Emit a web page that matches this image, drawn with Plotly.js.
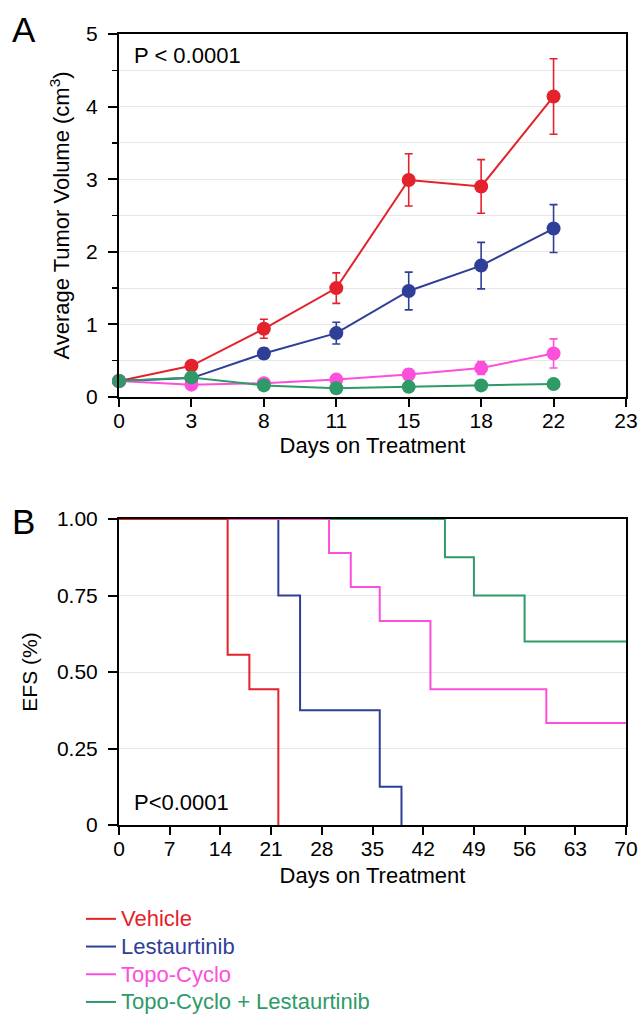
<!DOCTYPE html>
<html>
<head>
<meta charset="utf-8">
<script src="https://cdn.plot.ly/plotly-3.0.1.min.js"></script>
<style>html,body{margin:0;padding:0;background:#fff}#chart{width:644px;height:1027px}</style>
</head>
<body>
<div id="chart"></div>
<script>
// ---------- Panel A data ----------
const tickDays = [0, 3, 8, 11, 15, 18, 22, 23];
const measureDays = [0, 3, 8, 11, 15, 18, 22];
const vehicleVol = [0.22, 0.43, 0.94, 1.50, 2.99, 2.90, 4.14];
const vehicleErr = [0.02, 0.03, 0.13, 0.21, 0.36, 0.37, 0.52];
const lestVol = [0.22, 0.26, 0.60, 0.88, 1.46, 1.81, 2.32];
const lestErr = [0.02, 0.03, 0.07, 0.15, 0.26, 0.32, 0.33];
const topoVol = [0.22, 0.17, 0.19, 0.24, 0.31, 0.40, 0.60];
const topoErr = [0.02, 0.02, 0.03, 0.04, 0.07, 0.09, 0.20];
const comboVol = [0.22, 0.27, 0.16, 0.12, 0.14, 0.16, 0.18];
const comboErr = [0.02, 0.02, 0.02, 0.02, 0.02, 0.02, 0.02];

// ---------- Panel B data (Kaplan-Meier) ----------
const kmVehicleT = [0, 15, 18, 22];
const kmVehicleS = [1, 0.556, 0.444, 0];
const kmLestT = [0, 22, 25, 36, 39];
const kmLestS = [1, 0.75, 0.375, 0.125, 0];
const kmTopoT = [0, 29, 32, 36, 43, 59, 70];
const kmTopoS = [1, 0.889, 0.778, 0.667, 0.444, 0.333, 0.333];
const kmComboT = [0, 45, 49, 56, 70];
const kmComboS = [1, 0.875, 0.75, 0.6, 0.6];
const efsTickVals = [0, 0.25, 0.5, 0.75, 1];
const efsTickText = ['0', '0.25', '0.50', '0.75', '1.00'];
const kmTicks = [0, 7, 14, 21, 28, 35, 42, 49, 56, 63, 70];

const groupNames = ['Vehicle', 'Lestaurtinib', 'Topo-Cyclo', 'Topo-Cyclo + Lestaurtinib'];
const groupColors = ['#e3222b', '#2f3f98', '#fb4fdc', '#2e9a68'];

const FONT = 'Liberation Sans, Arial, Helvetica, sans-serif';
const xIdx = measureDays.map(d => tickDays.indexOf(d));

function volTrace(vals, errs, i) {
  return {
    x: xIdx, y: vals, type: 'scatter', mode: 'lines+markers',
    xaxis: 'x', yaxis: 'y', showlegend: false, cliponaxis: false,
    line: {color: groupColors[i], width: 2},
    marker: {color: groupColors[i], size: 14},
    error_y: {type: 'data', array: errs, visible: true, color: groupColors[i], thickness: 1.6, width: 4},
    hoverinfo: 'x+y', name: groupNames[i]
  };
}
function kmTrace(t, s, i) {
  return {
    x: t, y: s, type: 'scatter', mode: 'lines', xaxis: 'x2', yaxis: 'y2',
    line: {color: groupColors[i], width: 2, shape: 'hv'},
    name: '<span style="color:' + groupColors[i] + ';font-size:22px">' + groupNames[i] + '</span>',
    legendrank: i + 1, showlegend: true
  };
}

const data = [
  volTrace(vehicleVol, vehicleErr, 0),
  volTrace(lestVol, lestErr, 1),
  volTrace(topoVol, topoErr, 2),
  volTrace(comboVol, comboErr, 3),
  kmTrace(kmComboT, kmComboS, 3),
  kmTrace(kmLestT, kmLestS, 1),
  kmTrace(kmTopoT, kmTopoS, 2),
  kmTrace(kmVehicleT, kmVehicleS, 0)
];

const H = 1027;
const axCommon = {
  showline: true, linecolor: '#000', linewidth: 2, mirror: true,
  ticks: 'outside', ticklen: 9, tickwidth: 2, tickcolor: '#000',
  tickfont: {family: FONT, size: 21, color: '#000'}, zeroline: false, automargin: false
};

const layout = {
  width: 644, height: H,
  margin: {l: 119, r: 18, t: 0, b: 0, autoexpand: false},
  paper_bgcolor: '#fff', plot_bgcolor: '#fff',
  font: {family: FONT, color: '#000'},
  xaxis: Object.assign({}, axCommon, {
    domain: [0, 1], anchor: 'y', range: [0, 7],
    tickmode: 'array', tickvals: tickDays.map((d, i) => i), ticktext: tickDays.map(String),
    showgrid: false, ticklen: 8, ticklabelstandoff: -4,
    title: {text: 'Days on Treatment', font: {family: FONT, size: 22}, standoff: 6}
  }),
  yaxis: Object.assign({}, axCommon, {
    domain: [1 - 397 / H, 1 - 34 / H], anchor: 'x', range: [0, 5],
    tickmode: 'linear', dtick: 1, tick0: 0, showgrid: true, gridcolor: '#e6e6e6', gridwidth: 1,
    ticklabelstandoff: 6,
    minor: {dtick: 0.5, ticks: 'outside', ticklen: 5, tickwidth: 1.5, tickcolor: '#000', showgrid: true, gridcolor: '#e6e6e6'},
    title: {text: 'Average Tumor Volume (cm<sup>3</sup>)', font: {family: FONT, size: 22}, standoff: 10}
  }),
  xaxis2: Object.assign({}, axCommon, {
    domain: [0, 1], anchor: 'y2', range: [0, 70],
    tickmode: 'array', tickvals: kmTicks, ticktext: kmTicks.map(String), showgrid: false,
    ticklen: 8, ticklabelstandoff: -4,
    title: {text: 'Days on Treatment', font: {family: FONT, size: 22}, standoff: 8}
  }),
  yaxis2: Object.assign({}, axCommon, {
    domain: [1 - 825 / H, 1 - 519 / H], anchor: 'x2', range: [0, 1],
    tickmode: 'array', tickvals: efsTickVals, ticktext: efsTickText,
    showgrid: true, gridcolor: '#e6e6e6', ticklabelstandoff: 6,
    title: {text: 'EFS (%)', font: {family: FONT, size: 21}, standoff: 14}
  }),
  showlegend: true,
  legend: {
    x: -0.075, xanchor: 'left', y: 1 - 900 / H, yanchor: 'top',
    font: {family: FONT, size: 19}, bgcolor: 'rgba(0,0,0,0)', tracegroupgap: 0,
    traceorder: 'normal', itemwidth: 30
  },
  annotations: [
    {text: 'A', xref: 'paper', yref: 'paper', x: (10 - 119) / 507, y: 1 - 8 / H, xanchor: 'left', yanchor: 'top', showarrow: false, font: {family: FONT, size: 35}},
    {text: 'B', xref: 'paper', yref: 'paper', x: (10 - 119) / 507, y: 1 - 500 / H, xanchor: 'left', yanchor: 'top', showarrow: false, font: {family: FONT, size: 35}},
    {text: 'P < 0.0001', xref: 'x domain', yref: 'y domain', x: 0.025, y: 0.94, xanchor: 'left', yanchor: 'middle', showarrow: false, font: {family: FONT, size: 22}},
    {text: 'P<0.0001', xref: 'x2 domain', yref: 'y2 domain', x: 0.025, y: 0.075, xanchor: 'left', yanchor: 'middle', showarrow: false, font: {family: FONT, size: 22}}
  ]
};

Plotly.newPlot('chart', data, layout, {displayModeBar: false, staticPlot: true});
</script>
</body>
</html>
